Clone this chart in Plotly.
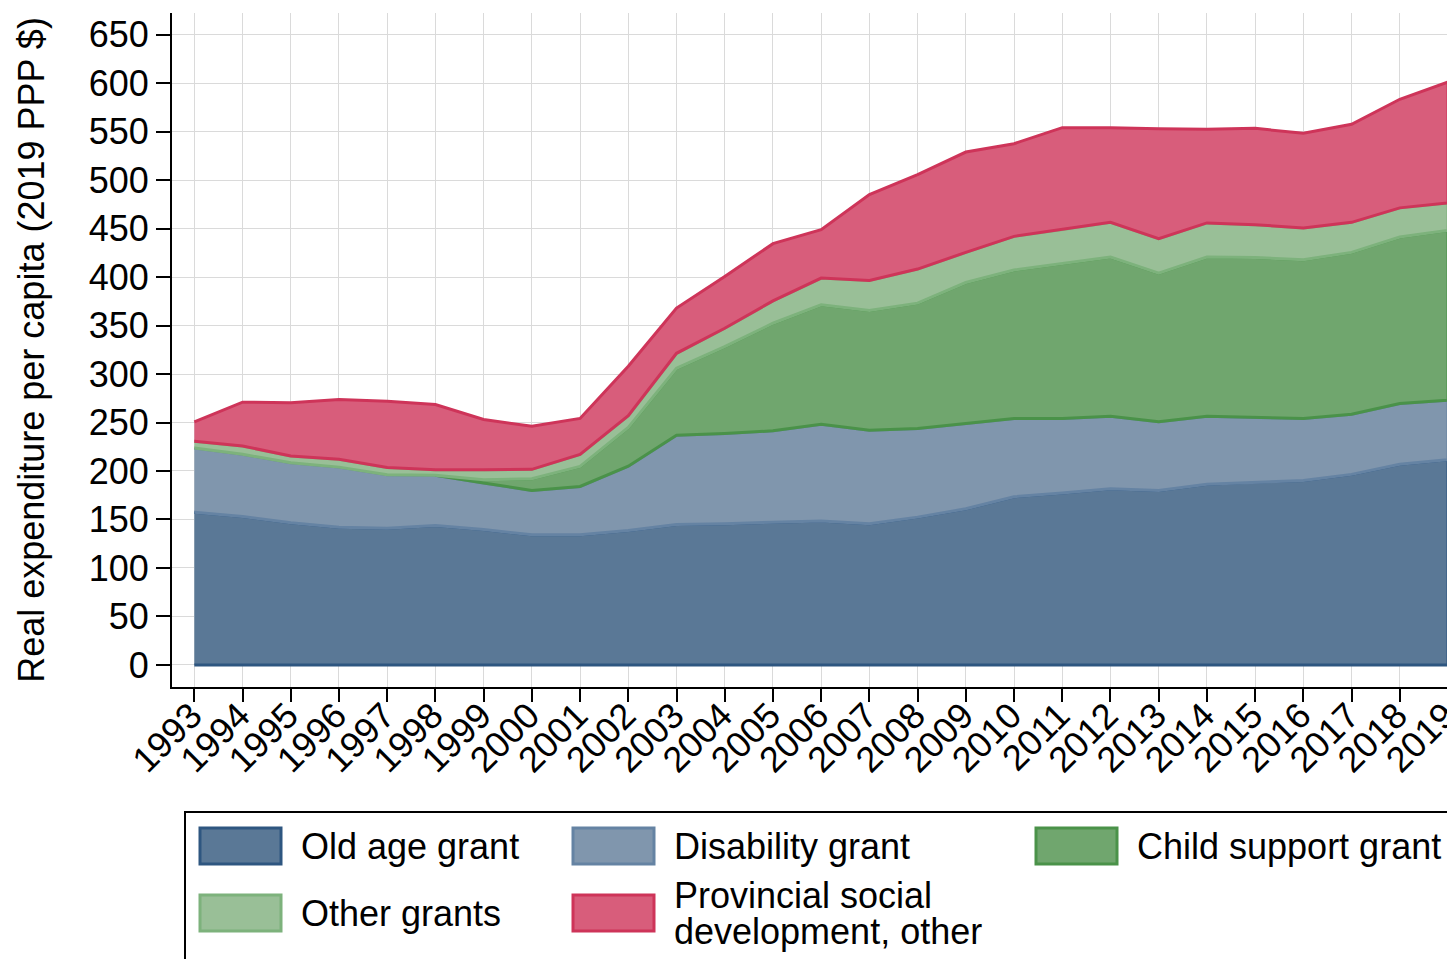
import numpy as np
import plotly.graph_objects as go

years = list(range(1993, 2020))

old_age = [157.5, 153.0, 146.6, 142.0, 141.0, 143.8, 139.6, 134.2, 134.2, 138.6,
           144.8, 145.5, 147.2, 148.3, 145.5, 152.4, 161.0, 173.5, 177.2, 181.7,
           180.0, 186.2, 188.6, 190.3, 196.5, 206.9, 211.7]
disability = [66.3, 64.2, 62.0, 62.0, 55.2, 51.7, 48.0, 45.8, 49.9, 66.4,
              92.1, 93.1, 94.2, 100.0, 96.5, 91.4, 88.0, 80.7, 77.0, 74.8,
              70.7, 70.3, 66.6, 63.9, 62.1, 62.8, 61.4]
child_support = [None, None, None, None, None, 0.0, 3.4, 12.0, 20.7, 40.0,
                 69.0, 89.7, 111.0, 123.1, 123.5, 129.3, 145.4, 153.1, 159.6, 164.2,
                 153.4, 164.2, 165.1, 163.7, 166.9, 171.7, 175.1]
other_grants = [6.9, 8.6, 6.9, 8.0, 7.3, 5.9, 10.4, 9.7, 12.4, 12.0,
                15.5, 18.9, 23.1, 27.6, 31.0, 35.2, 31.1, 34.7, 35.2, 35.8,
                35.5, 35.2, 33.8, 32.8, 31.0, 30.0, 28.4]
provincial = [20.0, 45.2, 54.9, 61.8, 68.5, 67.2, 51.7, 44.5, 37.0, 51.0,
              46.6, 53.5, 59.0, 50.0, 88.7, 97.5, 103.5, 95.6, 105.1, 97.6,
              113.4, 96.5, 99.3, 97.6, 101.1, 112.0, 124.7]

names = ["Old age grant", "Disability grant", "Child support grant",
         "Other grants", "Provincial social<br>development, other"]
series = [old_age, disability, child_support, other_grants, provincial]
fills = ["#5A7896", "#8096AD", "#70A66E", "#99BF97", "#D85D7B"]
lines = ["#2E5680", "#6583A3", "#4A9249", "#7DB27C", "#CE3459"]

FONT = "Liberation Sans, Arial, sans-serif"

# the page body adds an 8px margin, so lay out 8px up/left of the target
OFF = 8
# plot area in screen pixels
L, T, R, B = 172, 13, 1455, 687


def px(x):
    return (x - L) / (R - L)


def py(y):
    return (B - y) / (B - T)


fig = go.Figure()

base = np.zeros(len(years))
for name, vals, fc, lc in zip(names, series, fills, lines):
    v = np.array([0.0 if s is None else s for s in vals])
    top = base + v
    idx = [i for i, s in enumerate(vals) if s is not None]
    xs = [years[i] for i in idx] + [years[i] for i in idx[::-1]]
    ys = [top[i] for i in idx] + [base[i] for i in idx[::-1]]
    fig.add_trace(go.Scatter(
        x=xs, y=ys, mode="lines", fill="toself", fillcolor=fc,
        line=dict(color=lc, width=3), name=name.replace("<br>", " "),
        showlegend=False, hoverinfo="skip"
    ))
    base = top

# legend drawn by hand (Stata style boxes)
fig.add_shape(type="rect", xref="paper", yref="paper",
              x0=px(185), x1=px(1480), y0=py(812), y1=py(990),
              line=dict(color="black", width=2), fillcolor="rgba(0,0,0,0)")

cols = [200, 573, 1036]
rows = [846, 913]
for k, (name, fc, lc) in enumerate(zip(names, fills, lines)):
    cx = cols[k % 3]
    cy = rows[k // 3]
    fig.add_shape(type="rect", xref="paper", yref="paper",
                  x0=px(cx), x1=px(cx + 81), y0=py(cy - 18), y1=py(cy + 18),
                  line=dict(color=lc, width=3), fillcolor=fc)
    parts = name.split("<br>")
    offs = [0] if len(parts) == 1 else [-18, 18]
    for part, dy in zip(parts, offs):
        fig.add_annotation(xref="paper", yref="paper", x=px(cx + 99), y=py(cy + dy),
                           text=part, showarrow=False, xanchor="left", yanchor="middle",
                           align="left", font=dict(size=36, color="black", family=FONT))

fig.update_layout(
    width=1455, height=959,
    margin=dict(l=L - OFF, r=1455 - R + OFF, t=T - OFF, b=959 - B + OFF),
    plot_bgcolor="white", paper_bgcolor="white",
    font=dict(family=FONT, size=36, color="black"),
    showlegend=False,
)

fig.update_xaxes(
    range=[1992.537, 2019.145], automargin=False,
    tickmode="array", tickvals=years, ticktext=[str(y) for y in years],
    tickangle=-45, ticks="outside", ticklen=13, tickwidth=1.5, tickcolor="black",
    ticklabeloverflow="allow", ticklabelstandoff=-22, ticklabelshift=-3,
    showgrid=True, gridcolor="#DADADA", gridwidth=1,
    showline=True, linecolor="black", linewidth=2, zeroline=False,
    tickfont=dict(size=36),
)
fig.update_yaxes(
    range=[-22.8, 672.4], automargin=False,
    tickmode="linear", tick0=0, dtick=50,
    ticks="outside", ticklen=14, tickwidth=1.5, tickcolor="black",
    showgrid=True, gridcolor="#DADADA", gridwidth=1,
    showline=True, linecolor="black", linewidth=2, zeroline=False,
    tickfont=dict(size=36),
    title=dict(text="Real expenditure per capita (2019 PPP $)",
               font=dict(size=36), standoff=33),
)

fig.write_html("out.html")
